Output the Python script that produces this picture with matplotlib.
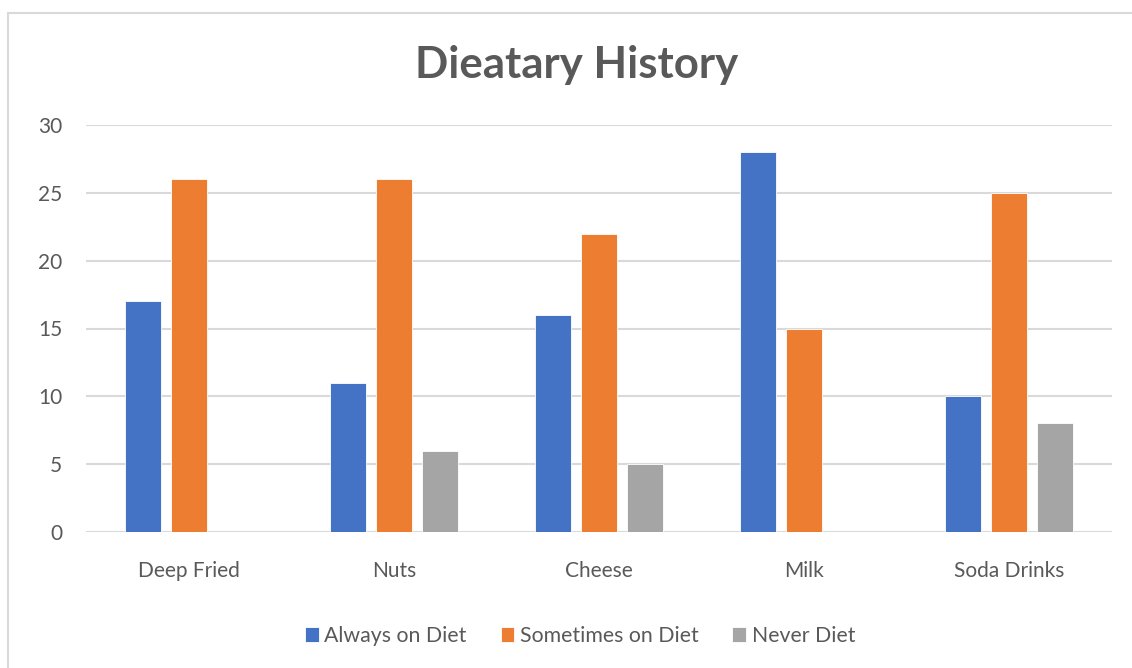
import numpy as np
import matplotlib.pyplot as plt
from matplotlib.patches import Rectangle

categories = ['Deep Fried', 'Nuts', 'Cheese', 'Milk', 'Soda Drinks']
always = [17, 11, 16, 28, 10]
sometimes = [26, 26, 22, 15, 25]
never = [0, 6, 5, 0, 8]
series = ['Always on Diet', 'Sometimes on Diet', 'Never Diet']
colors = ['#4472C4', '#ED7D31', '#A5A5A5']

plt.rcParams['font.family'] = ['Lato', 'DejaVu Sans']
txt = '#595959'

fig = plt.figure(figsize=(11.32, 6.68), dpi=100)
W, H = 1132, 668
ax = fig.add_axes([86/W, 1-532/H, (1112-86)/W, (532-125)/H])

# chart border
fig.patches.append(Rectangle((8/W, -0.02), 1.05, 1-13/H+0.02, transform=fig.transFigure,
                             fill=False, edgecolor='#d9d9d9', lw=1.5))

x = np.arange(len(categories))
w = 0.175
off = 0.224
for i, (vals, name) in enumerate(zip([always, sometimes, never], series)):
    ax.bar(x + (i-1)*off, vals, w, color=colors[i], label=name,
           edgecolor='white', linewidth=0.6, zorder=3)

ax.set_xlim(-0.5, len(categories)-0.5)
ax.set_ylim(0, 30)
ax.set_yticks(range(0, 31, 5))
ax.set_xticks(x)
ax.set_xticklabels(categories)
ax.grid(axis='y', color='#d9d9d9', lw=1.5, zorder=0)
for s in ax.spines.values():
    s.set_visible(False)
ax.tick_params(axis='both', length=0, labelsize=15, labelcolor=txt)
ax.tick_params(axis='x', pad=21)
ax.tick_params(axis='y', pad=17)

fig.text(577/W, 1-65/H, 'Dieatary History', ha='center', va='center',
         fontsize=31.5, fontweight='bold', color=txt)

leg = fig.legend(loc='center', bbox_to_anchor=(580/W, 1-636/H), ncol=3, frameon=False,
                 fontsize=15.3, handlelength=0.65, handleheight=0.65, handletextpad=0.25,
                 columnspacing=1.6)
for t in leg.get_texts():
    t.set_color(txt)

fig.savefig('out.png', dpi=100)
